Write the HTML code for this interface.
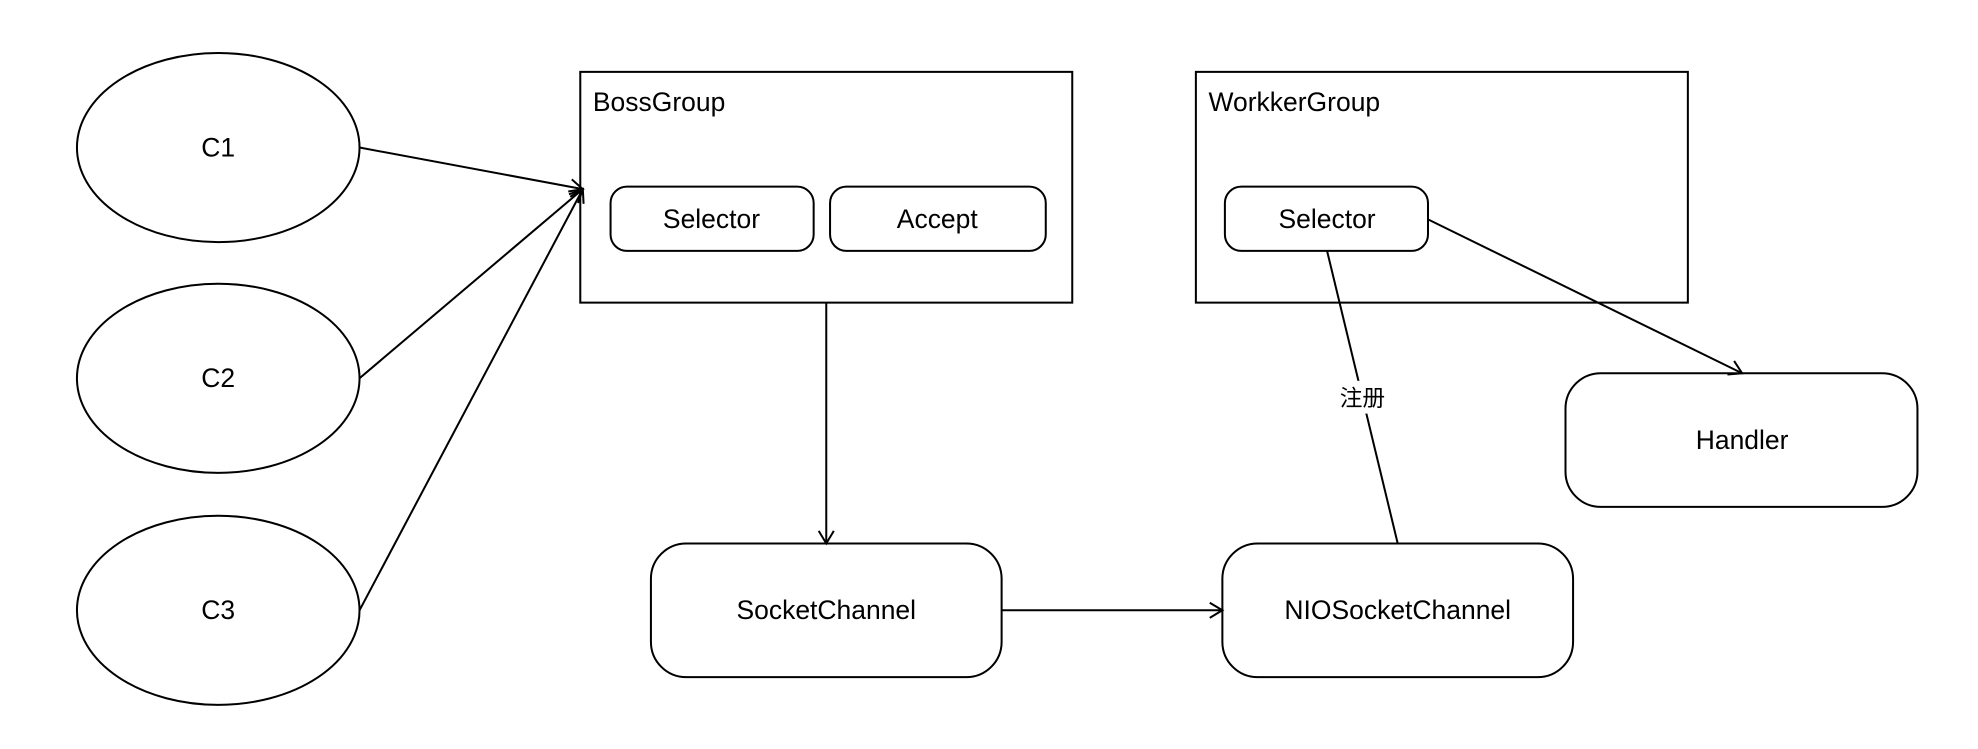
<!DOCTYPE html>
<html><head><meta charset="utf-8"><style>html,body{margin:0;padding:0;background:#fff;}svg{display:block}</style></head>
<body>
<svg width="1978" height="749" viewBox="0 0 1568 594" preserveAspectRatio="none" xmlns="http://www.w3.org/2000/svg">
<defs>
<marker id="a" markerWidth="14" markerHeight="14" refX="12" refY="7" orient="auto" markerUnits="userSpaceOnUse">
<path d="M2,1 L12,7 L2,13" fill="none" stroke="#000" stroke-width="1.6"/>
</marker>
</defs>
<rect width="1568" height="594" fill="#fff"/>
<g fill="none" stroke="#000" stroke-width="1.6">
<ellipse cx="173" cy="117" rx="112" ry="75"/>
<ellipse cx="173" cy="300" rx="112" ry="75"/>
<ellipse cx="173" cy="484" rx="112" ry="75"/>
<rect x="460" y="57" width="390" height="183"/>
<rect x="948" y="57" width="390" height="183"/>
<rect x="484" y="148" width="161" height="51" rx="13"/>
<rect x="658" y="148" width="171" height="51" rx="13"/>
<rect x="971" y="148" width="161" height="51" rx="13"/>
<rect x="1241" y="296" width="279" height="106" rx="28"/>
<rect x="516" y="431" width="278" height="106" rx="28"/>
<rect x="969" y="431" width="278" height="106" rx="28"/>
<line x1="285" y1="117" x2="462" y2="150" marker-end="url(#a)"/>
<line x1="285" y1="300" x2="462" y2="150" marker-end="url(#a)"/>
<line x1="285" y1="484" x2="462" y2="150" marker-end="url(#a)"/>
<line x1="655" y1="240" x2="655" y2="431" marker-end="url(#a)"/>
<line x1="794" y1="484" x2="969" y2="484" marker-end="url(#a)"/>
<line x1="1132" y1="174" x2="1381" y2="296" marker-end="url(#a)"/>
<line x1="1052" y1="199" x2="1108" y2="431"/>
</g>
<rect x="1058" y="302" width="44" height="26" fill="#fff"/>
<g font-family="Liberation Sans, Noto Sans CJK SC, sans-serif" font-size="21" fill="#000" text-anchor="middle">
<text x="173" y="124">C1</text>
<text x="173" y="307">C2</text>
<text x="173" y="491">C3</text>
<text x="564" y="181">Selector</text>
<text x="743" y="181">Accept</text>
<text x="1052" y="181">Selector</text>
<text x="1381" y="356">Handler</text>
<text x="655" y="491">SocketChannel</text>
<text x="1108" y="491">NIOSocketChannel</text>
<text x="1080" y="322" font-size="18">注册</text>
<text x="470" y="88" text-anchor="start">BossGroup</text>
<text x="958" y="88" text-anchor="start">WorkkerGroup</text>
</g>
</svg>
</body></html>
